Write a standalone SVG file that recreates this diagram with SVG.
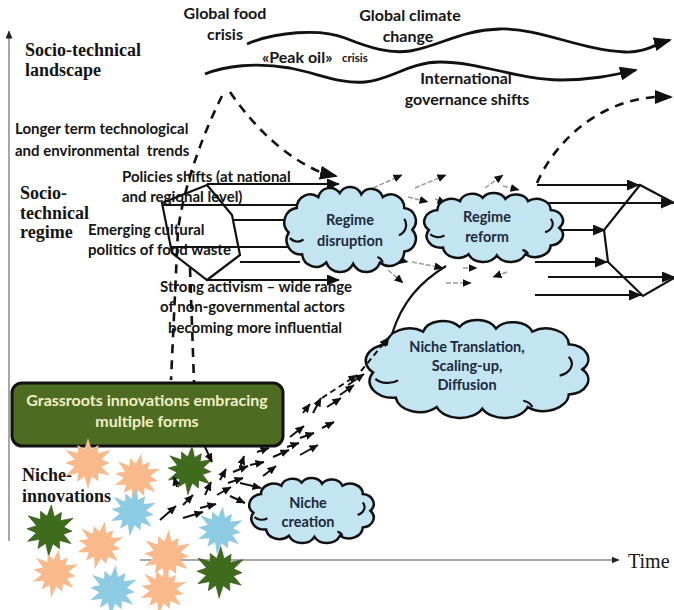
<svg xmlns="http://www.w3.org/2000/svg" width="674" height="610" viewBox="0 0 674 610">
<style>
.sans{font-family:Lato,"Open Sans","Liberation Sans",sans-serif;font-weight:bold;fill:#141414}
.serif{font-family:"Liberation Serif","Times New Roman",serif;font-weight:bold;fill:#141414;font-size:18px}
.lbl{font-size:15px}
.top{font-size:16px}
.mid{text-anchor:middle}
.ct{font-size:14.5px;fill:#1b2a3c;text-anchor:middle}
.ax{stroke:#8a8a8a;stroke-width:1.5;fill:none}
.wave{stroke:#111;stroke-width:2.8;fill:none;marker-end:url(#mb)}
.dash{stroke:#111;stroke-width:2.6;fill:none;stroke-dasharray:9,7}
.h{stroke:#111;stroke-width:2.2;fill:none}
.ha{stroke:#111;stroke-width:2.2;fill:none;marker-end:url(#mm)}
.na{stroke:#111;stroke-width:2;fill:none;marker-end:url(#ms)}
.ga{stroke:#9a9a9a;stroke-width:1.5;fill:none;stroke-dasharray:5,2;marker-end:url(#ms)}
.cl{fill:#c3e4f1;stroke:#111;stroke-width:2.5}
.ci{fill:none;stroke:#111;stroke-width:2.2}
.so{fill:#fab98a}
.sb{fill:#8ccbe2}
.sg{fill:#3e6b1c;stroke:#2a4a10;stroke-width:0.6}
</style>
<defs>
<marker id="mb" markerUnits="userSpaceOnUse" markerWidth="18" markerHeight="14" viewBox="0 0 18 14" refX="16" refY="7" orient="auto"><path d="M0,0 L18,7 L0,14 Z" fill="#111"/></marker>
<marker id="mm" markerUnits="userSpaceOnUse" markerWidth="13" markerHeight="11" viewBox="0 0 13 11" refX="12" refY="5.5" orient="auto"><path d="M0,0 L13,5.5 L0,11 Z" fill="#111"/></marker>
<marker id="ms" markerUnits="userSpaceOnUse" markerWidth="9" markerHeight="8" viewBox="0 0 9 8" refX="8.5" refY="4" orient="auto"><path d="M0,0 L9,4 L0,8 Z" fill="#111"/></marker>
<marker id="mx" markerUnits="userSpaceOnUse" markerWidth="8" markerHeight="7" viewBox="0 0 8 7" refX="7.5" refY="3.5" orient="auto"><path d="M0,0 L8,3.5 L0,7 Z" fill="#222"/></marker>
<g id="cloud">
<path class="cl" vector-effect="non-scaling-stroke" d="M4,34 A10.5,10.5 0 0 1 10,16 A10,10 0 0 1 26,8 A9,9 0 0 1 42,5 A9,9 0 0 1 58,6 A9,9 0 0 1 74,8 A10,10 0 0 1 90,16 A9.5,9.5 0 0 1 96,32 A9.5,9.5 0 0 1 90,48 A11,11 0 0 1 72,56 A11,11 0 0 1 52,57 A11,11 0 0 1 32,56 A10.5,10.5 0 0 1 14,50 A10.5,10.5 0 0 1 4,34 Z"/>
<path class="ci" vector-effect="non-scaling-stroke" d="M5,38 A7,7 0 0 0 15,39 M90,24 A8,8 0 0 1 86,36 M70,52 A6,6 0 0 1 74,56"/>
</g>
<path id="star" d="M0,-25 L3.6,-13.5 L10.5,-18.2 L9.9,-9.9 L22.5,-13 L13.5,-3.6 L22,0 L13.5,3.6 L21.7,12.5 L9.9,9.9 L10.5,18.2 L3.6,13.5 L0,26 L-3.6,13.5 L-11,19.1 L-9.9,9.9 L-21.7,12.5 L-13.5,3.6 L-23,0 L-13.5,-3.6 L-22.5,-13 L-9.9,-9.9 L-10.5,-18.2 L-3.6,-13.5 Z"/>
</defs>

<g id="axes">
<line class="ax" x1="9" y1="541" x2="9" y2="31" marker-end="url(#mx)"/>
<line class="ax" x1="140" y1="560" x2="619" y2="560" marker-end="url(#mx)"/>
<text x="628" y="568" style="font-family:'Liberation Serif','Times New Roman',serif;font-size:20px;fill:#161616">Time</text>
</g>

<g id="labels">
<text class="serif" x="25" y="56">Socio-technical</text>
<text class="serif" x="25" y="76">landscape</text>
<text class="serif" x="20" y="199">Socio-</text>
<text class="serif" x="20" y="219">technical</text>
<text class="serif" x="20" y="238">regime</text>
<text class="serif" x="22" y="481">Niche-</text>
<text class="serif" x="22" y="502">innovations</text>
<text class="sans top mid" x="225" y="19">Global food</text>
<text class="sans top mid" x="225" y="40">crisis</text>
<text class="sans top mid" x="410" y="21">Global climate</text>
<text class="sans top mid" x="408" y="42">change</text>
<text class="sans top" x="262" y="63">«Peak oil»</text>
<text class="sans" x="342" y="62" font-size="11.5">crisis</text>
<text class="sans top mid" x="466" y="84">International</text>
<text class="sans top mid" x="467" y="105">governance shifts</text>
<text class="sans lbl" x="15" y="134">Longer term technological</text>
<text class="sans lbl" x="15" y="156" style="white-space:pre">and environmental  trends</text>
<text class="sans lbl" x="122" y="182">Policies shifts (at national</text>
<text class="sans lbl" x="122" y="202">and regional level)</text>
<text class="sans lbl" x="88" y="235">Emerging cultural</text>
<text class="sans lbl" x="88" y="255">politics of food waste</text>
<text class="sans lbl" x="160" y="292">Strong activism – wide range</text>
<text class="sans lbl" x="160" y="312">of non-governmental actors</text>
<text class="sans lbl" x="168" y="333">becoming more influential</text>
</g>

<g id="connectors">
<path class="wave" d="M247,44 C275,32 320,28 345,38 C370,48 390,54 410,51 C440,46 460,30 500,29 C540,28 580,50 625,52 C645,53 655,44 670,40"/>
<path class="wave" d="M205,74 C225,66 255,62 290,68 C320,74 340,84 365,82 C390,80 410,62 440,62 C480,62 520,80 560,80 C590,80 610,76 636,70"/>
<path class="dash" d="M230,92 Q270,150 320,172" />
<path class="h" d="M322,173 L336,176" marker-end="url(#mb)"/>
<path class="dash" d="M222,96 C205,130 185,180 178,230 L171,380"/>
<path class="dash" d="M190,268 L194,382"/>
<path class="dash" d="M537,183 C552,148 592,102 655,97"/>
<path class="h" d="M656,97 L671,97" marker-end="url(#mb)"/>
<line class="ha" x1="207" y1="184" x2="339" y2="184"/>
<line class="h" x1="162" y1="205" x2="300" y2="205"/>
<line class="h" x1="232" y1="220" x2="300" y2="220"/>
<line class="h" x1="170" y1="247" x2="300" y2="247"/>
<line class="h" x1="240" y1="262" x2="300" y2="262"/>
<line class="ha" x1="207" y1="280" x2="339" y2="280"/>
<line class="ha" x1="537" y1="185" x2="639" y2="185"/>
<line class="ha" x1="545" y1="203" x2="673" y2="203"/>
<line class="ha" x1="550" y1="230" x2="605" y2="230"/>
<line class="ha" x1="535" y1="262" x2="607" y2="262"/>
<line class="ha" x1="548" y1="277" x2="674" y2="277"/>
<line class="ha" x1="535" y1="295" x2="641" y2="295"/>
<path class="ga" d="M373,188 L402,175"/>
<path class="ga" d="M415,188 L446,175"/>
<path class="ga" d="M408,197 L428,202"/>
<path class="ga" d="M435,199 L446,203"/>
<path class="ga" d="M485,188 L503,175"/>
<path class="ga" d="M503,186 L519,190"/>
<path class="ga" d="M395,259 L408,262"/>
<path class="ga" d="M412,262 L443,268"/>
<path class="ga" d="M388,270 L403,283"/>
<path class="ga" d="M446,283 L471,283"/>
<path class="ga" d="M463,268 L477,268"/>
<path class="ga" d="M507,272 L493,277"/>
<path class="h" d="M392,334 C402,302 420,282 446,266"/>
</g>

<g id="regime-hexagon">
<polygon points="207,185 232,215 240,255 207,280 172,253 162,203" fill="none" stroke="#111" stroke-width="2.2"/>
</g>
<g id="right-hexagon">
<polyline points="674,203 640,185 604,230 608,262 643,296 674,278" fill="none" stroke="#111" stroke-width="2.2"/>
</g>

<g id="regime-disruption">
<use href="#cloud" transform="translate(283.3,186.2) scale(1.344,1.362)"/>
<text class="sans ct" x="350" y="225">Regime</text>
<text class="sans ct" x="350" y="246">disruption</text>
</g>
<g id="regime-reform">
<use href="#cloud" transform="translate(423.2,192.3) scale(1.417,1.106)"/>
<text class="sans ct" x="487" y="222">Regime</text>
<text class="sans ct" x="487" y="242">reform</text>
</g>
<g id="niche-translation">
<use href="#cloud" transform="translate(364,319.1) scale(2.275,1.571)"/>
<text class="sans ct" x="467" y="352">Niche Translation,</text>
<text class="sans ct" x="467" y="371">Scaling-up,</text>
<text class="sans ct" x="467" y="390">Diffusion</text>
</g>
<g id="niche-creation">
<use href="#cloud" transform="translate(248.3,477.4) scale(1.272,1.042)"/>
<text class="sans ct" x="308" y="508">Niche</text>
<text class="sans ct" x="308" y="527">creation</text>
</g>

<g id="grassroots">
<rect x="12" y="383" width="271" height="63" rx="10" fill="#4e6c21" stroke="#111" stroke-width="3"/>
<text class="sans mid" x="147" y="406" font-size="16" style="fill:#f2efc6">Grassroots innovations embracing</text>
<text class="sans mid" x="147" y="427" font-size="16" style="fill:#f2efc6">multiple forms</text>
</g>

<g id="niche-stars">
<use href="#star" class="so" transform="translate(88,463) scale(1.0)"/>
<use href="#star" class="so" transform="translate(137,477) rotate(10) scale(0.95)"/>
<use href="#star" class="sg" transform="translate(190,470) rotate(5) scale(0.95)"/>
<use href="#star" class="sb" transform="translate(133,512) rotate(8) scale(0.95)"/>
<use href="#star" class="sg" transform="translate(50,530) rotate(3) scale(1.0)"/>
<use href="#star" class="so" transform="translate(100,545) rotate(12) scale(0.95)"/>
<use href="#star" class="sb" transform="translate(220,530) rotate(7) scale(0.95)"/>
<use href="#star" class="so" transform="translate(167,555) rotate(4) scale(1.0)"/>
<use href="#star" class="so" transform="translate(55,573) rotate(9) scale(0.95)"/>
<use href="#star" class="sg" transform="translate(220,572) rotate(2) scale(1.0)"/>
<use href="#star" class="sb" transform="translate(113,590) rotate(6) scale(1.0)"/>
<use href="#star" class="so" transform="translate(163,590) rotate(11) scale(0.95)"/>
</g>

<g id="niche-arrows">
<path class="na" d="M205,447 L212,462"/>
<path class="na" d="M160,520 L176,506"/>
<path class="na" d="M183,518 L203,512"/>
<path class="na" d="M183,505 L193,495"/>
<path class="na" d="M200,508 L216,504"/>
<path class="na" d="M230,496 L245,503"/>
<path class="na" d="M205,495 L211,482"/>
<path class="na" d="M217,495 L231,487"/>
<path class="na" d="M220,480 L226,469"/>
<path class="na" d="M228,483 L243,478"/>
<path class="na" d="M233,472 L248,466"/>
<path class="na" d="M240,468 L244,456"/>
<path class="na" d="M240,483 L261,488"/>
<path class="na" d="M250,465 L264,462"/>
<path class="na" d="M263,476 L276,466"/>
<path class="na" d="M257,452 L269,448"/>
<path class="na" d="M273,457 L289,450"/>
<path class="na" d="M287,447 L299,443"/>
<path class="na" d="M290,437 L304,426"/>
<path class="na" d="M300,438 L314,433"/>
<path class="na" d="M300,455 L318,445"/>
<path class="na" d="M303,413 L310,404"/>
<path class="na" d="M313,413 L321,398"/>
<path class="na" d="M322,428 L334,422"/>
<path class="na" d="M327,407 L341,398"/>
<path class="na" d="M340,395 L354,385"/>
<path class="na" d="M348,385 L364,374"/>
<path class="na" d="M177,487 L174,477"/>
<path class="na" d="M322,398 L357,375" stroke-dasharray="6,4"/>
<path class="na" d="M361,371 L388,338" stroke-dasharray="6,4"/>
</g>
</svg>
